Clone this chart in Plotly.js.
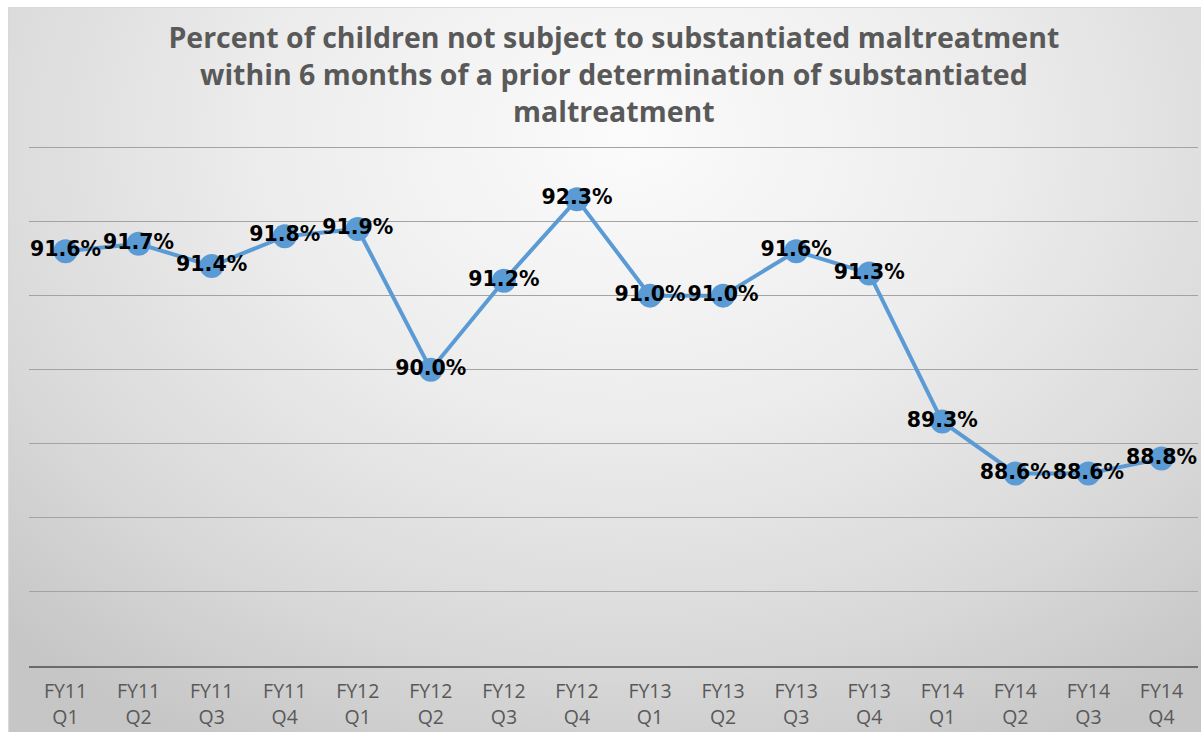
<!DOCTYPE html>
<html>
<head>
<meta charset="utf-8">
<script src="https://cdn.plot.ly/plotly-3.0.1.min.js"></script>
<style>
  html, body { margin: 0; padding: 0; background: #ffffff; }
  #frame {
    position: absolute; left: 8px; top: 7px; width: 1193px; height: 725px;
    border-top: 1px solid #d9d9d9; border-left: 1px solid #d9d9d9;
    box-sizing: border-box;
    background: radial-gradient(ellipse 75% 95% at 52% 18%, #fbfbfb 0%, #ededed 40%, #d9d9d9 75%, #c6c6c6 100%);
  }
  #chart { position: absolute; left: 0; top: 0; width: 1193px; height: 725px; }
</style>
</head>
<body>
<div id="frame"><div id="chart"></div></div>
<script>
// Quarterly recurrence-free rate, FY11 through FY14
const quarters = [
  'FY11<br>Q1', 'FY11<br>Q2', 'FY11<br>Q3', 'FY11<br>Q4',
  'FY12<br>Q1', 'FY12<br>Q2', 'FY12<br>Q3', 'FY12<br>Q4',
  'FY13<br>Q1', 'FY13<br>Q2', 'FY13<br>Q3', 'FY13<br>Q4',
  'FY14<br>Q1', 'FY14<br>Q2', 'FY14<br>Q3', 'FY14<br>Q4'
];
const percentNotMaltreated = [
  91.6, 91.7, 91.4, 91.8,
  91.9, 90.0, 91.2, 92.3,
  91.0, 91.0, 91.6, 91.3,
  89.3, 88.6, 88.6, 88.8
];
const chartTitle = 'Percent of children not subject to substantiated maltreatment<br>' +
  'within 6 months of a prior determination of substantiated<br>maltreatment';

const lineColor = '#5B9BD5';

const trace = {
  type: 'scatter',
  mode: 'lines+markers+text',
  x: quarters,
  y: percentNotMaltreated,
  text: percentNotMaltreated.map(v => v.toFixed(1) + '%'),
  textposition: 'middle center',
  textfont: { family: 'DejaVu Sans', size: 20.5, color: '#000000', weight: 'bold' },
  line: { color: lineColor, width: 4 },
  marker: { color: lineColor, size: 24 },
  hoverinfo: 'skip',
  cliponaxis: false
};

const layout = {
  width: 1193,
  height: 725,
  margin: { l: 20, r: 4, t: 138, b: 67 },
  paper_bgcolor: 'rgba(0,0,0,0)',
  plot_bgcolor: 'rgba(0,0,0,0)',
  showlegend: false,
  title: {
    text: chartTitle,
    font: { family: 'Open Sans', size: 28.5, color: '#595959', weight: 'bold' },
    x: 0.507, xanchor: 'center',
    xref: 'container',
    y: 0.945, yanchor: 'top', yref: 'container'
  },
  xaxis: {
    type: 'category',
    range: [-0.5, 15.5],
    showgrid: false,
    zeroline: false,
    showline: true,
    linecolor: '#6a6a6a',
    linewidth: 2,
    ticks: '',
    ticklabelstandoff: 7,
    tickfont: { family: 'Open Sans', size: 19.5, color: '#595959' },
    fixedrange: true
  },
  yaxis: {
    range: [86, 93.02],
    dtick: 1,
    tick0: 86,
    showticklabels: false,
    showgrid: true,
    gridcolor: '#a3a3a3',
    gridwidth: 1,
    zeroline: false,
    showline: false,
    ticks: '',
    fixedrange: true
  }
};

Plotly.newPlot('chart', [trace], layout, { displayModeBar: false, staticPlot: true });
</script>
</body>
</html>
